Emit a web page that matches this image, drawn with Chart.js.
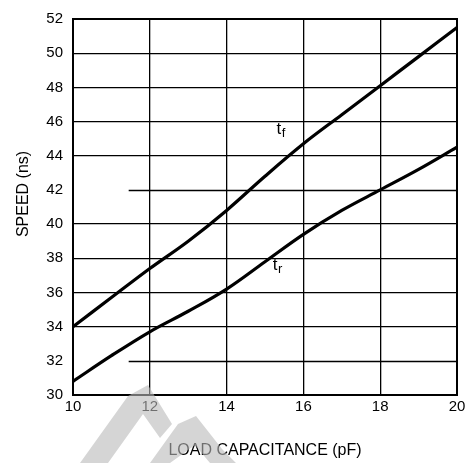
<!DOCTYPE html>
<html>
<head>
<meta charset="utf-8">
<script src="https://cdn.jsdelivr.net/npm/chart.js@4.4.1/dist/chart.umd.min.js"></script>
<style>
  html, body { margin: 0; padding: 0; background: #fff; }
  #wrap { width: 476px; height: 463px; position: relative; }
</style>
</head>
<body>
<div id="wrap"><canvas id="chart"></canvas></div>
<script>
// load capacitance (pF)
const loadPf = [10, 11, 12, 13, 14, 15, 16, 17, 18, 19, 20];
// fall time t_f (ns)
const fallNs = [34.0, 35.7, 37.4, 39.0, 40.8, 42.8, 44.7, 46.4, 48.1, 49.8, 51.5];
// rise time t_r (ns)
const riseNs = [30.8, 32.3, 33.7, 34.9, 36.2, 37.8, 39.4, 40.8, 42.0, 43.2, 44.5];

const xTicks = [10, 12, 14, 16, 18, 20];
const yTicks = [30, 32, 34, 36, 38, 40, 42, 44, 46, 48, 50, 52];
// these two rows of the grid start a bit inside the plot in the original
const shortGridRows = [32, 42];
const shortGridFrom = 11.45;

const curveLabels = [
  { text: "t", sub: "f", x: 15.3, y: 45.3 },
  { text: "t", sub: "r", x: 15.2, y: 37.3 },
];

const FONT = "'Liberation Sans', Arial, sans-serif";

const toPoints = (ys) => loadPf.map((x, i) => ({ x, y: ys[i] }));

const frame = {
  id: "frame",
  beforeDatasetsDraw(chart) {
    const { ctx, chartArea: a, scales } = chart;
    ctx.save();
    ctx.strokeStyle = "#000";
    ctx.lineWidth = 1.3;
    const x0 = scales.x.getPixelForValue(shortGridFrom);
    shortGridRows.forEach((v) => {
      const y = Math.round(scales.y.getPixelForValue(v)) + 0.5;
      ctx.beginPath();
      ctx.moveTo(x0, y);
      ctx.lineTo(a.right, y);
      ctx.stroke();
    });
    ctx.lineWidth = 2;
    ctx.strokeRect(a.left, a.top, a.right - a.left, a.bottom - a.top);
    ctx.restore();
  },
  afterDraw(chart) {
    const { ctx, scales } = chart;
    ctx.save();
    // y axis title, sits a little above the middle of the axis
    ctx.translate(24, 194);
    ctx.rotate(-Math.PI / 2);
    ctx.font = "16px " + FONT;
    ctx.fillStyle = "#000";
    ctx.textAlign = "center";
    ctx.textBaseline = "middle";
    ctx.fillText("SPEED (ns)", 0, 0);
    ctx.restore();

    ctx.save();
    // curve labels
    curveLabels.forEach((l) => {
      const px = scales.x.getPixelForValue(l.x);
      const py = scales.y.getPixelForValue(l.y);
      ctx.fillStyle = "#000";
      ctx.textBaseline = "alphabetic";
      ctx.font = "17px " + FONT;
      ctx.fillText(l.text, px, py);
      const w = ctx.measureText(l.text).width;
      ctx.font = "13px " + FONT;
      ctx.fillText(l.sub, px + w + 0.5, py + 3);
    });
    // faint watermark
    ctx.fillStyle = "rgba(185,185,185,0.6)";
    const shapes = [
      [[128, 396], [148, 385], [172, 424], [160, 438], [143, 414], [108, 463], [80, 463]],
      [[178, 424], [196, 416], [222, 449], [236, 463], [210, 463], [195, 445], [170, 463], [150, 463]],
    ];
    shapes.forEach((s) => {
      ctx.beginPath();
      s.forEach(([x, y], i) => (i ? ctx.lineTo(x, y) : ctx.moveTo(x, y)));
      ctx.closePath();
      ctx.fill();
    });
    ctx.restore();
  },
};

new Chart(document.getElementById("chart"), {
  type: "line",
  data: {
    datasets: [
      { label: "tf", data: toPoints(fallNs) },
      { label: "tr", data: toPoints(riseNs) },
    ],
  },
  options: {
    responsive: true,
    maintainAspectRatio: false,
    animation: false,
    layout: { padding: { top: 12, right: 19, left: 0, bottom: 0 } },
    elements: {
      line: { borderColor: "#000", borderWidth: 3.2, tension: 0.35, fill: false },
      point: { radius: 0 },
    },
    plugins: { legend: { display: false }, tooltip: { enabled: false } },
    scales: {
      x: {
        type: "linear",
        min: 10,
        max: 20,
        afterFit: (s) => { s.height = 68; },
        afterBuildTicks: (s) => { s.ticks = xTicks.map((v) => ({ value: v })); },
        border: { display: false },
        grid: { color: "#000", lineWidth: 1.3, drawTicks: false },
        ticks: { color: "#000", padding: 3, font: { family: FONT, size: 15 } },
        title: {
          display: true,
          text: "LOAD CAPACITANCE (pF)",
          color: "#000",
          padding: { bottom: 3 },
          font: { family: FONT, size: 16 },
        },
      },
      y: {
        min: 30,
        max: 52,
        afterFit: (s) => { s.width = 73; },
        afterBuildTicks: (s) => { s.ticks = yTicks.map((v) => ({ value: v })); },
        border: { display: false },
        grid: {
          drawTicks: false,
          lineWidth: 1.3,
          color: (c) => (shortGridRows.includes(c.tick && c.tick.value) ? "rgba(0,0,0,0)" : "#000"),
        },
        ticks: { color: "#000", padding: 10, font: { family: FONT, size: 15 } },
      },
    },
  },
  plugins: [frame],
});
</script>
</body>
</html>
